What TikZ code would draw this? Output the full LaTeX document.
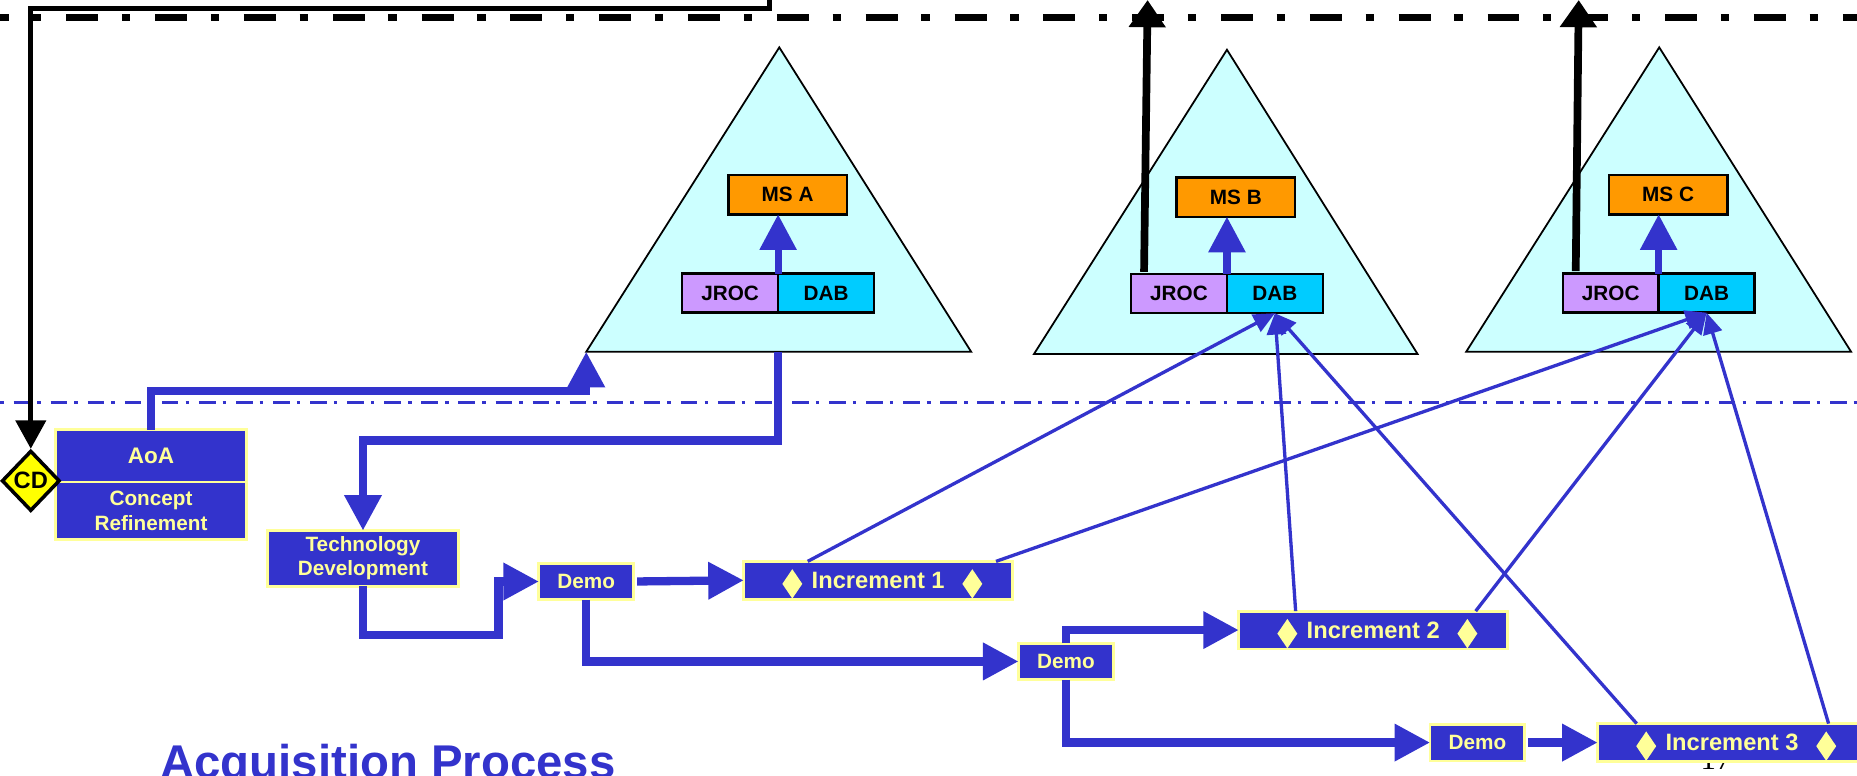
\documentclass[tikz,border=0pt]{standalone}
\usepackage{fontspec}
\setmainfont{Liberation Sans}
\newfontfamily\pagefont{Liberation Serif}
\usepackage{xcolor}
\usepackage{tikz}
\usetikzlibrary{calc, positioning, shapes.geometric, arrows.meta}

\definecolor{phaseblue}{HTML}{3333CC}
\definecolor{phaseline}{HTML}{FFFF99}
\definecolor{peakcyan}{HTML}{CCFFFF}
\definecolor{msorange}{HTML}{FF9900}
\definecolor{jrocpurple}{HTML}{CC99FF}
\definecolor{dabcyan}{HTML}{00CCFF}
\definecolor{cdyellow}{HTML}{FFFF00}

\tikzset{
	phase/.style = {draw = phaseline, fill = phaseblue, text = phaseline, line width = 2.4pt, inner sep = 0pt, outer sep = 0pt, align = center, font = \bfseries\fontsize{17.5}{20.5}\selectfont},
	demo/.style = {phase, minimum width = 80pt, minimum height = 31pt},
	increment/.style = {phase, minimum width = 227pt, minimum height = 32pt, font = \bfseries\fontsize{20}{24}\selectfont},
	gem/.style = {diamond, fill = phaseline, inner sep = 0pt, minimum width = 17pt, minimum height = 25pt},
	board/.style = {draw = black, line width = 2pt, inner sep = 0pt, outer sep = 0pt, minimum height = 33pt, font = \bfseries\fontsize{17.5}{20.5}\selectfont},
	ms/.style = {board, fill = msorange, minimum width = 100pt},
	jroc/.style = {board, fill = jrocpurple, minimum width = 81pt},
	dab/.style = {board, fill = dabcyan, minimum width = 81pt},
	peak/.style = {fill = peakcyan, draw = black, line width = 1.5pt},
	pipe/.style = {draw = phaseblue, line width = 7pt, -{Triangle[length = 30pt, width = 30pt]}},
	feed/.style = {draw = phaseblue, line width = 2.8pt, -{Triangle[length = 18pt, width = 16pt]}},
	gate/.style = {draw = black, line width = 6.5pt, -{Triangle[length = 23pt, width = 30pt]}}
}

\begin{document}
\begin{tikzpicture}[x = 1pt, y = -1pt]
	\def\w{1568};
	\def\h{655};
	
	\useasboundingbox (0,0) rectangle (\w,\h);
	\clip (0,0) rectangle (\w,\h);
	
	\filldraw [peak] (495,297) -- (658,40) -- (820,297) -- cycle;
	\filldraw [peak] (873,299) -- (1036,42) -- (1197,299) -- cycle;
	\filldraw [peak] (1238,297) -- (1401,40) -- (1563,297) -- cycle;
	\coordinate (triaw) at (495,297);
	\coordinate (triab) at (657,297);
	
	\draw [line width = 6pt, dash pattern = on 27pt off 20pt on 7pt off 21pt] (-19,15) -- (\w+20,15);
	\draw [phaseblue, line width = 3pt, dash pattern = on 14pt off 6pt on 3pt off 8.3pt] (-19.8,340) -- (\w+20,340);
	
	\node [ms] (msa) at (665,164.5) {MS A};
	\node [jroc] (jroca) at (616.5,247.5) {JROC};
	\node [dab, right = 0pt of jroca] (daba) {DAB};
	\node [ms] (msb) at (1043.5,166.5) {MS B};
	\node [jroc] (jrocb) at (995.5,248) {JROC};
	\node [dab, right = 0pt of jrocb] (dabb) {DAB};
	\node [ms] (msc) at (1408.5,164.5) {MS C};
	\node [jroc] (jrocc) at (1360,247.5) {JROC};
	\node [dab, right = 0pt of jrocc] (dabc) {DAB};
	
	\draw [pipe, line width = 6pt] (jroca.north east) -- (jroca.north east |- msa.south);
	\draw [pipe, line width = 6pt] (jrocb.north east) -- (jrocb.north east |- msb.south);
	\draw [pipe, line width = 6pt] (jrocc.north east) -- (jrocc.north east |- msc.south);
	
	\node [phase, minimum width = 161pt, minimum height = 44pt, font = \bfseries\fontsize{19}{23}\selectfont] (aoa) at (127.5,385) {AoA};
	\node [phase, minimum width = 161pt, minimum height = 48.5pt, below = 0pt of aoa] (concept) {Concept\\Refinement};
	\node [phase, minimum width = 161pt, minimum height = 47pt] (techdev) at (306.5,471.5) {Technology\\Development};
	\node [demo] (demoa) at (495,491) {Demo};
	\node [increment] (inca) at (741.5,490) {Increment 1};
	\node [demo] (demob) at (900,558.5) {Demo};
	\node [increment] (incb) at (1159.5,532) {Increment 2};
	\node [demo] (democ) at (1247.5,627) {Demo};
	\node [anchor = base, inner sep = 0pt, font = \pagefont\fontsize{26}{30}\selectfont] (pagenum) at (1449,650) {17};
	\node [increment] (incc) at (1462.5,627) {Increment 3};
	
	\foreach \n in {inca, incb, incc} {
		\node [gem] (\n-l) at ([xshift = 41pt, yshift = -3pt]\n.west) {};
		\node [gem] (\n-r) at ([xshift = -34pt, yshift = -3pt]\n.east) {};
	}
	
	\draw [pipe] (aoa.north) -- ++(0,-33) -| (triaw);
	\draw [pipe] (triab) -- ++(0,75) -| (techdev.north);
	\draw [pipe] (techdev.south) -- ++(0,41) -| ([xshift = -34pt]demoa.west) -- (demoa.west);
	\draw [pipe, shorten <= 3pt] (demoa.east) -- (inca.west);
	\draw [pipe] (demoa.south) |- (demob.west);
	\draw [pipe] (demob.north) |- (incb.west);
	\draw [pipe] (demob.south) |- (democ.west);
	\draw [pipe, shorten <= 3pt] (democ.east) -- (incc.west);
	
	\draw [feed] ([xshift = 54pt]inca.north west) -- (dabb.south);
	\draw [feed] ([xshift = -14pt]inca.north east) -- (dabc.south);
	\draw [feed] ([xshift = 48pt]incb.north west) -- (dabb.south);
	\draw [feed] ([xshift = -27pt]incb.north east) -- (dabc.south);
	\draw [feed] ([xshift = 33pt]incc.north west) -- (dabb.south);
	\draw [feed] ([xshift = -32pt]incc.north east) -- (dabc.south);
	
	\coordinate (cdtop) at (650,-3);
	\node [diamond, draw, fill = cdyellow, line width = 3pt, minimum width = 49pt, minimum height = 51pt, inner sep = 0pt, font = \bfseries\fontsize{20}{24}\selectfont] (cd) at (26,406) {CD};
	\draw [line width = 4.5pt, -{Triangle[length = 24pt, width = 25pt]}] (cdtop) -- ++(0,10) -| (cd.north);
	
	\coordinate (topb) at (969,0);
	\coordinate (topc) at (1333,0);
	\draw [gate] ([xshift = 11pt, yshift = 2pt]jrocb.north west) -- (topb);
	\draw [gate] ([xshift = 11pt, yshift = 2pt]jrocc.north west) -- (topc);
	
	\node [anchor = base west, inner sep = 0pt, text = phaseblue, font = \bfseries\fontsize{40}{48}\selectfont] (title) at (135,657) {Acquisition Process};
\end{tikzpicture}
\end{document}
